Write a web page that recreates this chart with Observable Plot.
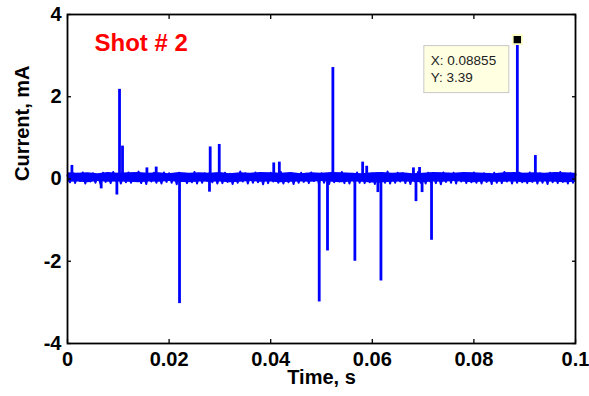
<!DOCTYPE html>
<html><head><meta charset="utf-8">
<script src="https://cdn.jsdelivr.net/npm/d3@7"></script>
<script src="https://cdn.jsdelivr.net/npm/@observablehq/plot@0.6"></script>
<style>body{margin:0;background:#fff} #chart svg{display:block}</style>
</head><body><div id="chart"></div>
<script>
const xTicks = [0, 0.02, 0.04, 0.06, 0.08, 0.1];
const yTicks = [-4, -2, 0, 2, 4];
const title = "Shot # 2";
const xLabel = "Time, s";
const yLabel = "Current, mA";
const tipX = 0.08855;
const tipY = 3.39;

// solid core of the baseline noise band, read every 2 ms
const bandStep = 0.002;
const bandHigh = [0.15,0.14,0.15,0.13,0.16,0.14,0.15,0.16,0.14,0.15,0.13,0.16,0.14,0.15,0.14,0.16,0.13,0.15,0.14,0.16,
  0.15,0.14,0.16,0.13,0.15,0.14,0.16,0.15,0.14,0.13,0.15,0.16,0.14,0.15,0.13,0.14,0.16,0.15,0.14,0.16,
  0.15,0.14,0.13,0.15,0.16,0.14,0.15,0.14,0.16,0.15,0.14];
const bandLow = [-0.08,-0.07,-0.09,-0.06,-0.08,-0.07,-0.08,-0.09,-0.07,-0.08,-0.06,-0.08,-0.09,-0.07,-0.08,-0.07,-0.09,-0.08,-0.06,-0.08,
  -0.07,-0.09,-0.08,-0.07,-0.08,-0.06,-0.08,-0.09,-0.07,-0.08,-0.1,-0.09,-0.08,-0.07,-0.08,-0.09,-0.07,-0.08,-0.06,-0.08,
  -0.09,-0.07,-0.08,-0.08,-0.07,-0.09,-0.08,-0.07,-0.08,-0.09,-0.08];

// baseline noise, one value per sample (sample step 0.5 ms)
const sampleStep = 0.0005;
const noise = [
 0.09,-0.08,0.15,-0.1,0.13,-0.05,0.16,-0.11,0.11,-0.06,0.14,-0.09,0.08,-0.12,0.15,-0.07,0.12,-0.1,0.17,-0.04,
 0.13,-0.11,0.1,-0.08,0.16,-0.09,0.14,-0.05,0.18,-0.1,0.11,-0.12,0.13,-0.06,0.15,-0.09,0.09,-0.11,0.16,-0.07,
 0.14,-0.09,0.12,-0.13,0.15,-0.05,0.13,-0.1,0.1,-0.08,0.17,-0.11,0.11,-0.09,0.14,-0.04,0.16,-0.08,0.13,-0.11,
 0.1,-0.1,0.15,-0.07,0.13,-0.12,0.12,-0.09,0.18,-0.06,0.14,-0.11,0.09,-0.09,0.16,-0.08,0.13,-0.13,0.11,-0.1,
 0.15,-0.06,0.13,-0.09,0.17,-0.11,0.11,-0.08,0.14,-0.12,0.1,-0.09,0.15,-0.07,0.13,-0.1,0.16,-0.05,0.12,-0.11,
 0.14,-0.09,0.11,-0.12,0.15,-0.08,0.13,-0.06,0.17,-0.1,0.12,-0.11,0.13,-0.07,0.16,-0.09,0.1,-0.1,0.15,-0.08,
 0.13,-0.12,0.14,-0.07,0.12,-0.09,0.18,-0.11,0.11,-0.09,0.15,-0.06,0.14,-0.1,0.12,-0.12,0.13,-0.07,0.17,-0.09,
 0.11,-0.11,0.15,-0.08,0.13,-0.1,0.1,-0.13,0.16,-0.07,0.13,-0.09,0.15,-0.11,0.12,-0.06,0.14,-0.1,0.13,-0.08,
 0.16,-0.09,0.11,-0.11,0.14,-0.07,0.13,-0.12,0.15,-0.09,0.12,-0.1,0.17,-0.06,0.13,-0.11,0.11,-0.09,0.15,-0.08,
 0.13,-0.1,0.16,-0.07,0.12,-0.11,0.14,-0.09,0.1,-0.12,0.15,-0.08,0.13,-0.1,0.17,-0.07,0.12,-0.11,0.14,-0.09,
 0.11
];

// discrete spikes
const spikeTime = [0.00087,0.00663,0.00972,0.01024,0.01083,0.01563,0.01746,0.02205,0.02795,0.02809,0.02987,
  0.0406,0.0417,0.04955,0.05118,0.05224,0.05657,0.0581,0.0589,0.0611,0.0617,0.0681,0.0686,0.0693,0.0698,0.07166,0.08855,0.0921];
const spikeValue = [0.33,-0.24,-0.39,2.18,0.80,0.27,0.29,-3.03,-0.32,0.78,0.84,
  0.39,0.41,-2.99,-1.75,2.71,-2.0,0.41,0.31,-0.33,-2.48,0.27,-0.55,0.28,-0.33,-1.49,3.39,0.57];

const bandData = bandHigh.map((h, i) => ({t: i * bandStep, lo: bandLow[i], hi: h}));
const noiseData = noise.map((v, i) => ({t: i * sampleStep, v}));
const spikes = spikeTime.map((t, i) => ({t, v: spikeValue[i]}));
const font = "'Liberation Sans', Arial, Helvetica, sans-serif";
const blue = "#0000ff";

const tipBox = (index, scales) => {
  const px = scales.x(tipX), py = scales.y(tipY);
  const g = d3.create("svg:g").attr("font-family", font).attr("font-size", 13.5)
    .attr("fill", "#222").attr("text-anchor", "start");
  g.append("rect").attr("x", px - 93).attr("y", py + 6.5).attr("width", 85).attr("height", 47)
    .attr("fill", "#ffffe1").attr("stroke", "#c8c8c8");
  g.append("text").attr("x", px - 86).attr("y", py + 26).text(`X: ${tipX}`);
  g.append("text").attr("x", px - 86).attr("y", py + 43).text(`Y: ${tipY}`);
  return g.node();
};

const chart = Plot.plot({
  width: 589,
  height: 396,
  marginLeft: 67,
  marginRight: 14,
  marginTop: 14,
  marginBottom: 53,
  style: {fontFamily: font, background: "#fff"},
  x: {domain: [0, 0.1]},
  y: {domain: [-4, 4]},
  marks: [
    Plot.areaY(bandData, {x: "t", y1: "lo", y2: "hi", fill: blue}),
    Plot.line(noiseData, {x: "t", y: "v", stroke: blue, strokeWidth: 2}),
    Plot.ruleX(spikes, {x: "t", y1: 0, y2: "v", stroke: blue, strokeWidth: 2.8}),
    Plot.frame({stroke: "black", strokeWidth: 1.8}),
    Plot.axisX({anchor: "bottom", ticks: xTicks, tickSize: -4, tickPadding: 12, tickFormat: d => String(d),
      fontSize: 20, fontWeight: "bold", label: null, strokeWidth: 1.3}),
    Plot.axisX({anchor: "top", ticks: xTicks, tickSize: -4, tickFormat: () => "", label: null, strokeWidth: 1.3}),
    Plot.axisY({anchor: "left", ticks: yTicks, tickSize: -4, tickPadding: 10, tickFormat: d => String(d),
      fontSize: 20, fontWeight: "bold", label: null, strokeWidth: 1.3}),
    Plot.axisY({anchor: "right", ticks: yTicks, tickSize: -4, tickFormat: () => "", label: null, strokeWidth: 1.3}),
    Plot.text([xLabel], {frameAnchor: "bottom", dy: 40, fontSize: 20, fontWeight: "bold", fill: "black"}),
    Plot.text([yLabel], {frameAnchor: "left", dx: -45, dy: 2, rotate: -90, fontSize: 20, fontWeight: "bold", fill: "black"}),
    Plot.text([title], {frameAnchor: "top-left", textAnchor: "start", lineAnchor: "top", dx: 27, dy: 19,
      fontSize: 24, fontWeight: "bold", fill: "#ff0000"}),
    Plot.dot([{t: tipX, v: tipY}], {x: "t", y: "v", symbol: "square", r: 5.2, fill: "black", stroke: "#ffffc8", strokeWidth: 1.8}),
    tipBox
  ]
});
document.getElementById("chart").appendChild(chart);
</script>
</body></html>
